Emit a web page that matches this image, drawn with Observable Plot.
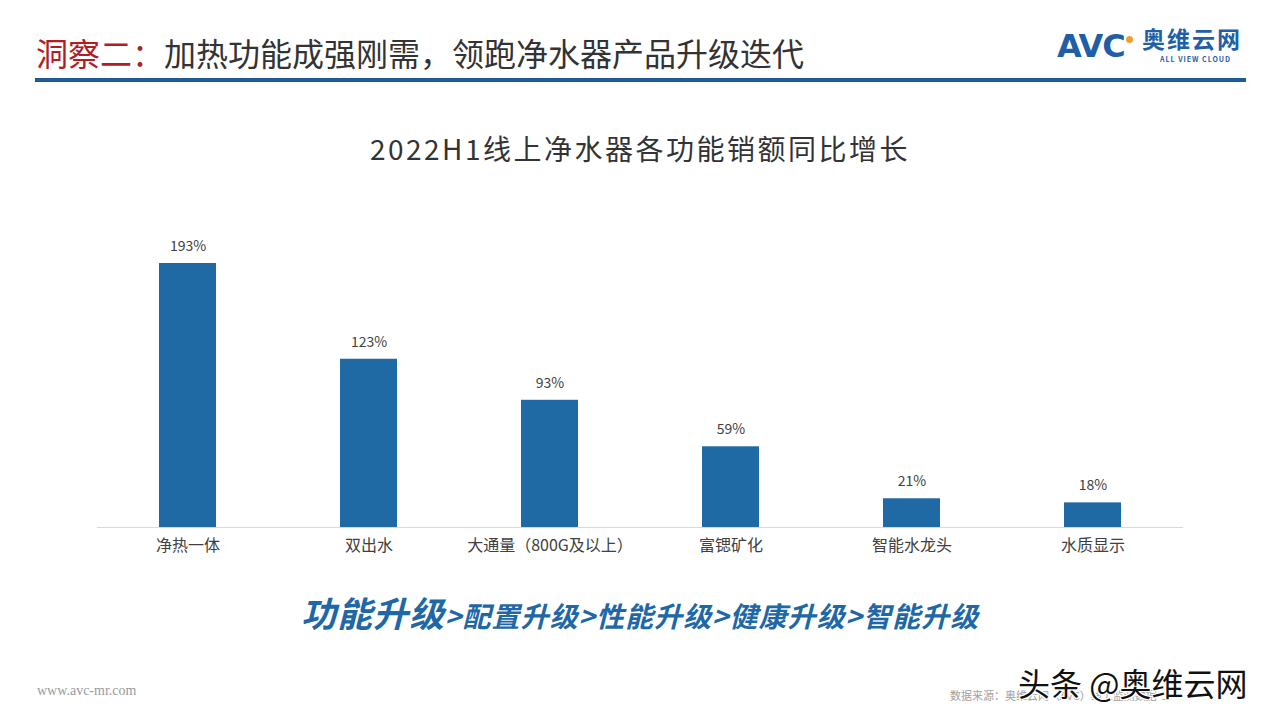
<!DOCTYPE html>
<html>
<head>
<meta charset="utf-8">
<script src="https://cdn.jsdelivr.net/npm/d3@7"></script>
<script src="https://cdn.jsdelivr.net/npm/@observablehq/plot@0.6"></script>
<style>
  html, body { margin: 0; padding: 0; background: #fff; }
  body { width: 1280px; height: 720px; position: relative; overflow: hidden;
         font-family: "Noto Sans CJK SC", "Noto Sans", sans-serif; }
  .abs { position: absolute; white-space: nowrap; }
  #header { left: 36px; top: 29px; font-size: 32px; color: #333; line-height: 46px; }
  #header .red { color: #b01e23; }
  #hline { left: 35px; top: 78px; width: 1211px; height: 4px; background: #1f5a96; }
  #avc { left: 1057px; top: 28px; font-family: "DejaVu Sans", sans-serif; font-weight: 900; font-size: 32px; color: #1f5fa8; letter-spacing: -1px; line-height: 36px; }
  #dot { left: 1126px; top: 36px; width:7px; height:7px; border-radius:50%; background:#f0a030; }
  #cn { left: 1142px; top: 23px; font-size: 23px; font-weight: 700; color: #1f5fa8; line-height: 30px; letter-spacing: 2px; }
  #en { left: 1160px; top: 55px; font-size: 7px; line-height: 9px; font-weight: 700; color: #1f5fa8; letter-spacing: 1px; }
  #ctitle { left: 0; width: 1280px; text-align: center; top: 127px; font-size: 28px; letter-spacing: 2.5px; color: #333; line-height: 42px; }
  #chart { left: 0; top: 200px; }
  #slogan { left: 0; width: 1280px; text-align: center; top: 589px; color: #1f68a8; font-weight: 700; font-style: italic; line-height: 46px; letter-spacing: 1px; }
  #slogan .big { font-size: 35px; }
  #slogan .small { font-size: 28px; }
  #web { left: 37px; top: 683px; font-family: "Liberation Serif", serif; font-size: 14px; color: #9a9a9a; }
  #src { left: 950px; top: 687px; font-size: 11px; color: #a0a0a0; }
  #wm { left: 1018px; top: 660px; font-size: 32px; color: #111; line-height: 44px;
        text-shadow: -1px -1px 0 #fff, 1px -1px 0 #fff, -1px 1px 0 #fff, 1px 1px 0 #fff; }
</style>
</head>
<body>
<div class="abs" id="header"><span class="red">洞察二：</span>加热功能成强刚需，领跑净水器产品升级迭代</div>
<div class="abs" id="hline"></div>
<div class="abs" id="avc">AVC</div>
<div class="abs" id="dot"></div>
<div class="abs" id="cn">奥维云网</div>
<div class="abs" id="en">ALL VIEW CLOUD</div>
<div class="abs" id="ctitle">2022H1线上净水器各功能销额同比增长</div>
<div class="abs" id="chart"></div>
<div class="abs" id="slogan"><span class="big">功能升级</span><span class="small">&gt;配置升级&gt;性能升级&gt;健康升级&gt;智能升级</span></div>
<div class="abs" id="web">www.avc-mr.com</div>
<div class="abs" id="src">数据来源：奥维云网（AVC）线上监测数据 &nbsp;3</div>
<div class="abs" id="wm">头条 @奥维云网</div>
<script>
const categories = ["净热一体", "双出水", "大通量（800G及以上）", "富锶矿化", "智能水龙头", "水质显示"];
const growth = [193, 123, 93, 59, 21, 18];
const labels = ["193%", "123%", "93%", "59%", "21%", "18%"];

const data = categories.map((c, i) => ({category: c, value: growth[i], label: labels[i]}));

const chart = Plot.plot({
  width: 1280,
  height: 370,
  marginLeft: 97,
  marginRight: 97,
  marginTop: 63,
  marginBottom: 43,
  style: {fontFamily: "'Noto Sans CJK SC', sans-serif", background: "transparent"},
  x: {domain: categories, paddingInner: 0.685, paddingOuter: 0.3425, label: null},
  y: {domain: [0, 193], axis: null},
  marks: [
    Plot.barY(data, {x: "category", y: "value", fill: "#1f69a4"}),
    Plot.ruleY([0], {stroke: "#d9d9d9", strokeWidth: 1}),
    Plot.text(data, {x: "category", y: "value", text: "label", dy: -17, fontSize: 14, fill: "#404040"}),
    Plot.axisX({tickSize: 0, tickPadding: 12, fontSize: 16, color: "#404040", label: null})
  ]
});
document.getElementById("chart").appendChild(chart);
</script>
</body>
</html>
